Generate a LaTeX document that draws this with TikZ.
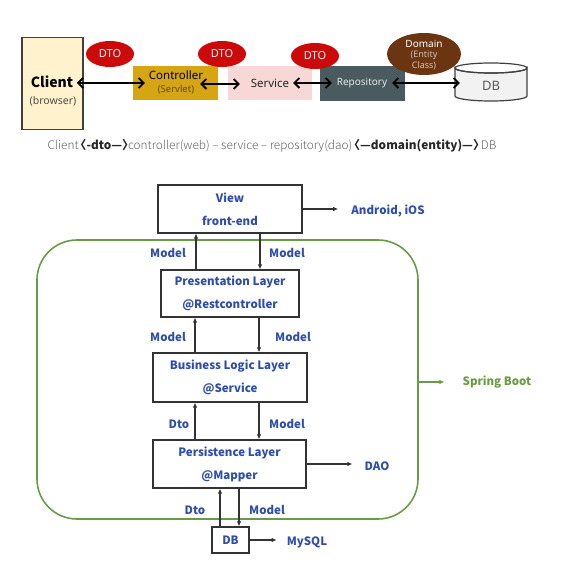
\documentclass[tikz,border=0pt]{standalone}
\usepackage{fontspec}
\setmainfont{Noto Sans}
\newfontfamily\kr{Noto Sans CJK KR}
\newfontfamily\krlight{Noto Sans CJK KR Light}
\usetikzlibrary{arrows.meta,shapes.geometric}
\definecolor{lblue}{HTML}{2F4DAA}
\definecolor{sbgreen}{HTML}{6A9A45}
\definecolor{dtored}{HTML}{CC0A0A}
\definecolor{clienty}{HTML}{FFF2CC}
\definecolor{ctrlgold}{HTML}{D6A514}
\definecolor{servpink}{HTML}{F8D8D6}
\definecolor{repogray}{HTML}{4A5B5F}
\definecolor{dombrown}{HTML}{6B3512}
\definecolor{dbgray}{HTML}{F2F2F2}
\tikzset{
  topbox/.style={minimum height=34, inner sep=0},
  toptxt/.style={inner sep=0, font=\fontsize{11.5}{12}\selectfont},
  dto/.style={ellipse, fill=dtored, minimum width=48, minimum height=26, inner sep=0, text=white, font=\fontsize{11}{12}\selectfont},
  dbl/.style={{Straight Barb[length=5pt,width=10pt]}-{Straight Barb[length=5pt,width=10pt]}, line width=1.8pt, black},
  layer/.style={draw=black!80, line width=1.2pt, fill=white, align=center, text=lblue, inner sep=0, font=\kr\bfseries\fontsize{11.5}{23}\selectfont},
  flow/.style={-{Latex[length=5pt,width=4.5pt]}, line width=1.2pt, draw=black!80},
  lbl/.style={text=lblue, inner sep=0, font=\kr\bfseries\fontsize{11.5}{12}\selectfont}
}
\begin{document}
\begin{tikzpicture}[x=1pt,y=-1pt]
\useasboundingbox (0,0) rectangle (576,569);
% ---------- top part ----------
\node[draw=black!75, line width=1.5pt, fill=clienty, minimum width=61, minimum height=92, inner sep=0] (client) at (52.5,83.5) {};
\node[inner sep=0, font=\kr\bfseries\fontsize{14}{15}\selectfont] (clienttxt) at (52,82) {Client};
\node[inner sep=0, text=black!70, font=\fontsize{10.5}{11}\selectfont] (browser) at (53,101) {(browser)};

\node[topbox, fill=ctrlgold, minimum width=85] (ctrl) at (175.5,83) {};
\node[toptxt] (ctrltxt) at (176,75.5) {Controller};
\node[toptxt, text=black!55!ctrlgold, font=\fontsize{9.5}{10}\selectfont] (servlet) at (176,90) {(Servlet)};

\node[topbox, fill=servpink, minimum width=84] (service) at (270,83) {};
\node[toptxt, text=black!85] (servtxt) at (270,83) {Service};

\node[topbox, fill=repogray, minimum width=85, minimum height=35] (repo) at (362.5,83.5) {};
\node[toptxt, text=white!85!repogray, font=\fontsize{10}{11}\selectfont] (repotxt) at (362,83) {Repository};

\node[minimum width=72, minimum height=38, inner sep=0] (db) at (491,82) {};
\filldraw[draw=black!75, fill=dbgray, line width=1.2pt] (455,68) -- (455,96) arc[start angle=180, end angle=0, x radius=36, y radius=5] -- (527,68) arc[start angle=0, end angle=180, x radius=36, y radius=5] -- cycle;
\draw[black!75, line width=1.2pt] (491,68) ellipse[x radius=36, y radius=5];
\node[inner sep=0, text=black!65, font=\fontsize{13}{14}\selectfont] (dbtxt) at (491,86) {DB};

\node[dto] (dto1) at (110,54) {DTO};
\node[dto] (dto2) at (222,54) {DTO};
\node[dto] (dto3) at (315,56) {DTO};
\node[ellipse, fill=dombrown, minimum width=74, minimum height=42, inner sep=0] (domain) at (424,54) {};
\node[inner sep=0, text=white, font=\fontsize{10}{11}\selectfont] (domtxt) at (424,43.5) {Domain};
\node[inner sep=0, text=white!70!dombrown, font=\fontsize{9}{10}\selectfont] (enttxt) at (424,55) {(Entity};
\node[inner sep=0, text=white!70!dombrown, font=\fontsize{9}{10}\selectfont] (clstxt) at (424,66) {Class)};

\draw[dbl] ([xshift=-7pt]client.east |- ctrl.center) -- ([xshift=12pt]ctrl.west);
\draw[dbl] ([xshift=-18pt,yshift=-1pt]ctrl.east) -- ([xshift=12pt,yshift=-1pt]service.west);
\draw[dbl] ([xshift=-19pt]service.east) -- ([xshift=12pt]repo.west |- service.east);
\draw[dbl] ([xshift=-13pt]repo.east |- service.east) -- ([xshift=5pt]db.west |- service.east);

\node[inner sep=0, text=black!62, font=\krlight\fontsize{11.8}{12}\selectfont] (cap) at (272,146)
  {Client\,{\kr\bfseries\color{black!85}\hspace{-0.5em}〈-dto—〉\hspace{-0.5em}}controller(web) – service – repository(dao)\,{\kr\bfseries\color{black!85}\hspace{-0.5em}〈—domain(entity)—〉\hspace{-0.5em}}\,DB};

% ---------- bottom part ----------
\node[draw=sbgreen, line width=1.6pt, rounded corners=40, minimum width=381, minimum height=279, inner sep=0] (sb) at (227.5,379.5) {};

\node[layer, minimum width=144, minimum height=48] (view) at (230,209) {View\\front-end};
\node[layer, minimum width=138, minimum height=47] (pres) at (230,293.5) {Presentation Layer\\@Restcontroller};
\node[layer, minimum width=154, minimum height=49] (bus) at (230,377.5) {Business Logic Layer\\@Service};
\node[layer, minimum width=153, minimum height=48] (pers) at (229.5,464) {Persistence Layer\\@Mapper};
\node[layer, minimum width=37, minimum height=26] (db2) at (230.5,540) {DB};

\coordinate (cA) at (196,0);
\coordinate (cB) at (260,0);
\coordinate (cC) at (195,0);
\coordinate (cD) at (259,0);
\coordinate (cE) at (220,0);
\coordinate (cF) at (239,0);

\draw[flow] (pres.north -| cA) -- (view.south -| cA);
\draw[flow] (view.south -| cB) -- (pres.north -| cB);
\draw[flow] (bus.north -| cC) -- (pres.south -| cC);
\draw[flow] (pres.south -| cD) -- (bus.north -| cD);
\draw[flow] (pers.north -| cC) -- (bus.south -| cC);
\draw[flow] (bus.south -| cD) -- (pers.north -| cD);
\draw[flow] (db2.north -| cE) -- (pers.south -| cE);
\draw[flow] (pers.south -| cF) -- (db2.north -| cF);

\node[lbl] (m1) at (168,253) {Model};
\node[lbl] (m2) at (287,253) {Model};
\node[lbl] (m3) at (168,337) {Model};
\node[lbl] (m4) at (293,337) {Model};
\node[lbl] (d1) at (179,424) {Dto};
\node[lbl] (m5) at (287,424) {Model};
\node[lbl] (d2) at (195,510) {Dto};
\node[lbl] (m6) at (267,510) {Model};

\node[lbl] (android) at (388,211) {Android, iOS};
\node[lbl] (dao) at (377,466) {DAO};
\node[lbl] (mysql) at (307,542) {MySQL};
\node[lbl, text=sbgreen] (spring) at (497,382) {Spring Boot};

\draw[flow] (view.east) -- ([xshift=-13pt]android.west |- view.east);
\draw[flow] (pers.east) -- ([xshift=-12pt]dao.west |- pers.east);
\draw[flow] (db2.east) -- ([xshift=-10pt]mysql.west |- db2.east);
\draw[-{Latex[length=5pt,width=4.5pt]}, line width=1.6pt, draw=sbgreen] (sb.east |- spring.west) -- ([xshift=-18pt]spring.west);
\end{tikzpicture}
\end{document}
